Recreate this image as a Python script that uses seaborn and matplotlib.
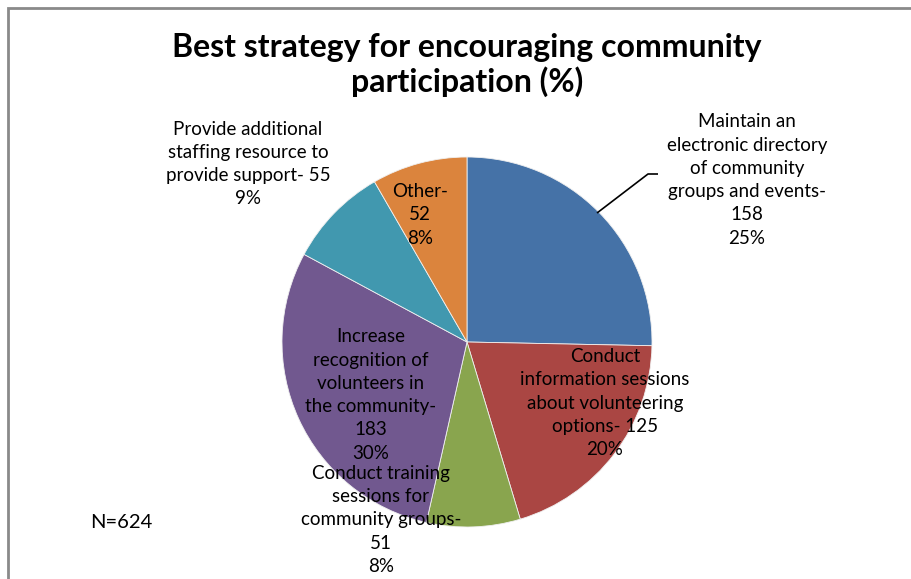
import matplotlib
matplotlib.use("Agg")
import matplotlib.pyplot as plt
import seaborn as sns

# Survey responses (N=624), drawn clockwise from 12 o'clock
categories = [
    "Maintain an\nelectronic directory\nof community\ngroups and events-",
    "Conduct\ninformation sessions\nabout volunteering\noptions-",
    "Conduct training\nsessions for\ncommunity groups-",
    "Increase\nrecognition of\nvolunteers in\nthe community-",
    "Provide additional\nstaffing resource to\nprovide support-",
    "Other-",
]
counts = [158, 125, 51, 183, 55, 52]
percent_labels = [25, 20, 8, 30, 9, 8]
# separator between the category text and the count: newline or space
count_sep = ["\n", " ", "\n", "\n", " ", "\n"]
colors = ["#4572A7", "#AA4643", "#89A54E", "#71588F", "#4198AF", "#DB843D"]

W, H = 911, 579
sns.set_theme(style="white")
plt.rcParams["font.family"] = ["Lato", "DejaVu Sans"]

fig = plt.figure(figsize=(W / 100, H / 100), dpi=100)
ax = fig.add_axes([0, 0, 1, 1])

# pie in pixel space (y axis points down): center and radius
cx, cy, r = 467, 342, 185
palette = sns.color_palette(colors)
ax.pie(
    counts, colors=palette, startangle=-90, counterclock=True,
    center=(cx, cy), radius=r, frame=True,
    wedgeprops=dict(edgecolor="#f0f0f0", linewidth=0.6),
)
ax.set_xlim(0, W)
ax.set_ylim(H, 0)
ax.set_aspect("equal")
ax.axis("off")

label_pos = [(747, 180), (605, 403), (381, 520), (371, 395), (248, 164), (420, 215)]
for cat, n, pct, sep, (x, y) in zip(categories, counts, percent_labels,
                                    count_sep, label_pos):
    ax.text(x, y, f"{cat}{sep}{n}\n{pct}%", ha="center", va="center",
            fontsize=13.5, color="black", linespacing=1.45)

# leader line for the directory label
ax.plot([597, 648, 658], [213, 174, 174], color="black", lw=1.2,
        solid_capstyle="butt")

ax.text(90, 523, "N=624", ha="left", va="center", fontsize=14.5, color="black")

fig.text(467 / W, 1 - 65 / H,
         "Best strategy for encouraging community\nparticipation (%)",
         ha="center", va="center", fontsize=23, fontweight="bold",
         linespacing=1.2, color="black")

# chart area frame (top and left edges)
ax.plot([8, 8, W], [H, 8, 8], color="#8a8a8a", lw=2, solid_joinstyle="miter")

fig.savefig("out.png", dpi=100)
